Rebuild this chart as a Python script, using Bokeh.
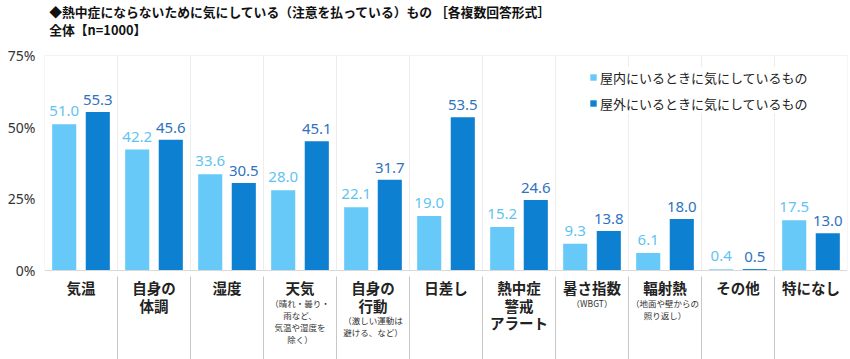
from bokeh.plotting import figure
from bokeh.layouts import column
from bokeh.models import (ColumnDataSource, FixedTicker, PrintfTickFormatter, Legend,
                          LegendItem, Range1d, Span)
from bokeh.transform import dodge
from bokeh.core.properties import value
from bokeh.embed import file_html
from bokeh.resources import INLINE

# ---------------- data ----------------
categories = ["気温", "自身の\n体調", "湿度", "天気", "自身の\n行動", "日差し",
              "熱中症\n警戒\nアラート", "暑さ指数", "輻射熱", "その他", "特になし"]
sub_labels = ["", "", "", "（晴れ・曇り・\n雨など、\n気温や湿度を\n除く）",
              "（激しい運動は\n避ける、など）", "", "", "（WBGT）",
              "（地面や壁からの\n照り返し）", "", ""]
indoor = [51.0, 42.2, 33.6, 28.0, 22.1, 19.0, 15.2, 9.3, 6.1, 0.4, 17.5]
outdoor = [55.3, 45.6, 30.5, 45.1, 31.7, 53.5, 24.6, 13.8, 18.0, 0.5, 13.0]
series_names = ["屋内にいるときに気にしているもの", "屋外にいるときに気にしているもの"]
y_ticks = [0, 25, 50, 75]
title_lines = ["◆熱中症にならないために気にしている（注意を払っている）もの ［各複数回答形式］",
               "全体【n=1000】"]

# ---------------- layout ----------------
W = 850
TITLE_H = 40
H = 359 - TITLE_H
FRAME_L, FRAME_T, FRAME_R = 44, 15, 3
Y_MAX = 75
PX_PER = 215 / 75.0
ZERO_PX = FRAME_T + 215
Y_MIN = -(H - ZERO_PX) / PX_PER

LIGHT = "#66C9F8"
DARK = "#0E80D2"
LIGHT_TXT = "#5FC3F2"
DARK_TXT = "#2F72BE"
JP = "Noto Sans CJK JP"
NUM = "Noto Sans"

# ---------------- title strip ----------------
t = figure(width=W, height=TITLE_H, x_range=Range1d(0, W), y_range=Range1d(TITLE_H, 0),
           x_axis_location=None, y_axis_location=None, min_border=0,
           output_backend="svg", toolbar_location=None)
t.grid.visible = False
t.outline_line_color = None
t.text(x=[5, 5], y=[10.5, 29], text=title_lines, text_align="left", text_baseline="middle",
       text_font=value(JP), text_font_size="12.8px", text_font_style="bold",
       text_color="#111111")

# ---------------- main chart ----------------
n = len(categories)
xs = list(range(n))
src = ColumnDataSource(dict(
    x=xs, indoor=indoor, outdoor=outdoor,
    indoor_lbl=[f"{v:.1f}" for v in indoor],
    outdoor_lbl=[f"{v:.1f}" for v in outdoor],
))

p = figure(width=W, height=H, x_range=Range1d(-0.5, n - 0.5), y_range=Range1d(Y_MIN, Y_MAX),
           x_axis_location=None, y_axis_location="left",
           min_border_left=FRAME_L, min_border_right=FRAME_R, min_border_top=FRAME_T,
           min_border_bottom=0, output_backend="svg", toolbar_location=None)
p.grid.visible = False
p.outline_line_color = None
p.background_fill_color = "white"
p.border_fill_color = "white"

ax = p.yaxis[0]
ax.ticker = FixedTicker(ticks=y_ticks)
ax.formatter = PrintfTickFormatter(format="%d%%")
ax.axis_line_color = None
ax.major_tick_line_color = None
ax.minor_tick_line_color = None
ax.major_tick_out = 0
ax.major_label_standoff = 9
ax.major_label_text_font = NUM
ax.major_label_text_font_size = "14px"
ax.major_label_text_color = "#333333"

# frame lines
p.add_layout(Span(location=Y_MAX, dimension="width", line_color="#E6E6E6", line_width=1))
p.add_layout(Span(location=0, dimension="width", line_color="#D9D9D9", line_width=1))
bounds = [i - 0.5 for i in range(n + 1)]
p.segment(x0=bounds, y0=[0] * len(bounds), x1=bounds, y1=[Y_MAX] * len(bounds),
          line_color="#EDEDED", line_width=1)
inner = [i + 0.5 for i in range(n - 1)]
p.segment(x0=inner, y0=[-6 / PX_PER] * len(inner), x1=inner, y1=[Y_MIN] * len(inner),
          line_color="#C8C8C8", line_width=1)

# bars
OFF = 0.23
BW = 0.33
r1 = p.vbar(x=dodge("x", -OFF, range=p.x_range), top="indoor", width=BW, source=src,
            fill_color=LIGHT, line_color=None)
r2 = p.vbar(x=dodge("x", OFF, range=p.x_range), top="outdoor", width=BW, source=src,
            fill_color=DARK, line_color=None)

p.text(x=dodge("x", -OFF, range=p.x_range), y="indoor", text="indoor_lbl", source=src,
       text_align="center", text_baseline="bottom", y_offset=-8,
       text_font=value(NUM), text_font_size="15px", text_color=LIGHT_TXT)
p.text(x=dodge("x", OFF, range=p.x_range), y="outdoor", text="outdoor_lbl", source=src,
       text_align="center", text_baseline="bottom", y_offset=-7,
       text_font=value(NUM), text_font_size="15px", text_color=DARK_TXT)

# category labels (below baseline)
mx, my, mt = [], [], []
sx, sy, st = [], [], []
for i, (cat, sub) in enumerate(zip(categories, sub_labels)):
    lines = cat.split("\n")
    for k, ln in enumerate(lines):
        mx.append(i); my.append(17 + 17.5 * k); mt.append(ln)
    last = 17 + 17.5 * (len(lines) - 1)
    if sub:
        for k, ln in enumerate(sub.split("\n")):
            sx.append(i); sy.append(last + 15 + 12 * k); st.append(ln)

p.text(x=mx, y=[0] * len(mx), y_offset=my, text=mt, text_align="center", text_baseline="middle",
       text_font=value(JP), text_font_size="14.5px", text_font_style="bold", text_color="#222222")
p.text(x=sx, y=[0] * len(sx), y_offset=sy, text=st, text_align="center", text_baseline="middle",
       text_font=value(JP), text_font_size="8.5px", text_color="#333333")

# legend
legend = Legend(items=[LegendItem(label=series_names[0], renderers=[r1]),
                       LegendItem(label=series_names[1], renderers=[r2])],
                location=(545, 246), orientation="vertical",
                glyph_width=8, glyph_height=8, label_standoff=3, spacing=6, padding=10, margin=0,
                label_height=20, label_text_font=JP, label_text_font_size="13px",
                label_text_color="#222222", border_line_color=None,
                background_fill_color="white", background_fill_alpha=1.0)
p.add_layout(legend)

layout = column(t, p, spacing=0)
open("out.html", "w").write(file_html(layout, INLINE))
